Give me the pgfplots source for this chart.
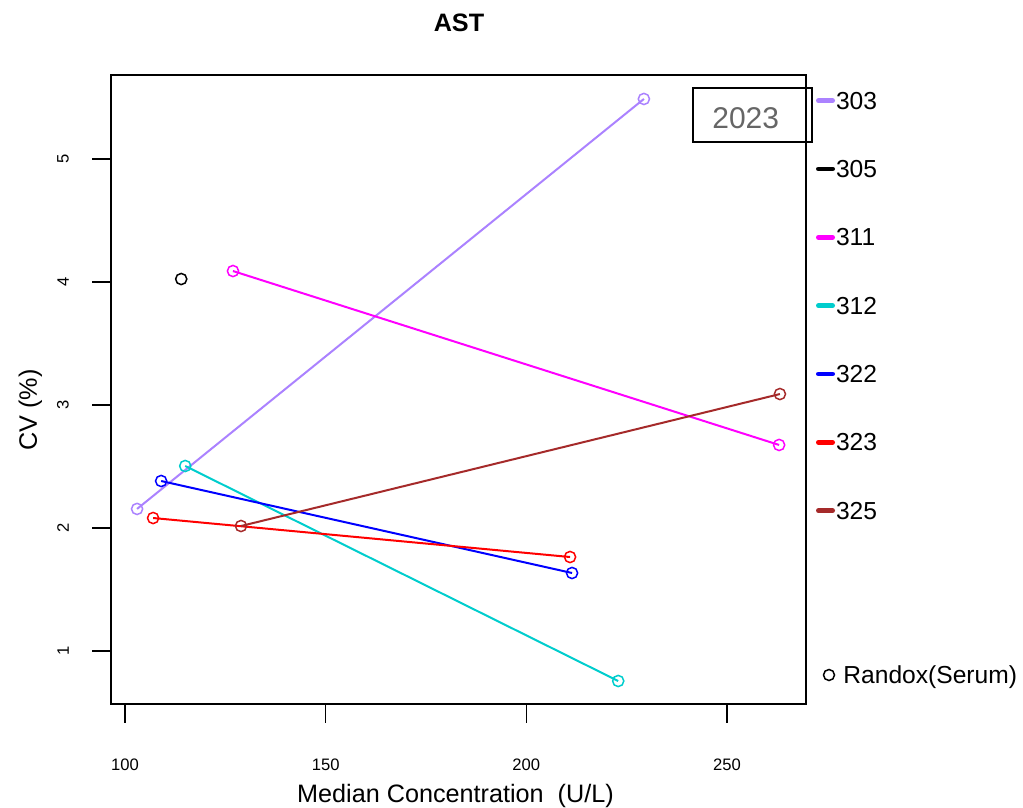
\documentclass[border=0pt]{standalone}
\usepackage{fontspec}
\setmainfont{Liberation Sans}
\usepackage{pgfplots}
\pgfplotsset{compat=1.18}
\definecolor{c303}{RGB}{171,130,255}
\definecolor{c311}{RGB}{255,0,255}
\definecolor{c312}{RGB}{0,205,205}
\definecolor{c322}{RGB}{0,0,255}
\definecolor{c323}{RGB}{255,0,0}
\definecolor{c325}{RGB}{165,42,42}
\definecolor{boxgray}{RGB}{102,102,102}
\begin{document}
\begin{tikzpicture}
\begin{axis}[
  at={(0pt,0pt)}, anchor=south west,
  scale only axis, width=347.5pt, height=314.5pt,
  xmin=96.5, xmax=269.7, ymin=0.569, ymax=5.683,
  clip=false,
  axis line style={line width=0.75pt},
  xtick={100,150,200,250}, ytick={1,2,3,4,5},
  xtick pos=bottom, ytick pos=left,
  tick align=outside, major tick length=9.3pt,
  tick style={line width=0.75pt, black},
  /pgf/number format/assume math mode=true,
  ticklabel style={font=\fontsize{8.3}{10}\selectfont, inner sep=0pt},
  xticklabel style={anchor=base},
  xticklabel shift=23.7pt,
  yticklabel style={rotate=90, anchor=south},
  yticklabel shift=11.55pt,
  title={AST},
  title style={at={(axis description cs:0.5007,1.0504)}, anchor=base, inner sep=0pt, font=\fontsize{12.6}{15}\selectfont\bfseries},
  xlabel={Median Concentration\ \ (U/L)},
  xlabel style={at={(axis description cs:0.4957,-0.1558)}, anchor=base, inner sep=0pt, font=\fontsize{12.6}{15}\selectfont},
  ylabel={CV (\%)},
  ylabel style={at={(axis description cs:-0.1065,0.4674)}, anchor=base, inner sep=0pt, font=\fontsize{12.6}{15}\selectfont},
  legend style={at={(axis description cs:1.01295,0.97297)}, anchor=north west, draw=none, fill=none, inner sep=0pt, outer sep=0pt, row sep=25.57pt,
    nodes={inner sep=0pt, text height=8.6pt, text depth=0pt, font=\fontsize{12.3}{14}\selectfont}},
  legend cell align=left,
  legend image code/.code={\path (0pt,0pt) (9.5pt,0pt); \draw[#1, line width=2.4pt, line cap=round] (1.2pt,0pt) -- (8.3pt,0pt);},
  every axis plot/.append style={line width=1pt, mark=o, mark size=2.8pt, mark options={line width=0.75pt}},
]
\addplot[c303] coordinates {(103.0,2.155) (229.3,5.488)};
\addlegendentry{303}
\addplot[black] coordinates {(114.0,4.024)};
\addlegendentry{305}
\addplot[c311] coordinates {(126.9,4.089) (263.0,2.675)};
\addlegendentry{311}
\addplot[c312] coordinates {(115.0,2.504) (222.9,0.756)};
\addlegendentry{312}
\addplot[c322] coordinates {(109.0,2.382) (211.4,1.634)};
\addlegendentry{322}
\addplot[c323] coordinates {(107.0,2.081) (210.9,1.764)};
\addlegendentry{323}
\addplot[c325] coordinates {(128.9,2.016) (263.2,3.089)};
\addlegendentry{325}
\node[draw, line width=0.75pt, minimum width=59.5pt, minimum height=27pt, inner sep=0pt] at (axis description cs:0.92302,0.93641) {};
\node[text=boxgray, font=\fontsize{15}{18}\selectfont, inner sep=0pt, anchor=base] at (axis description cs:0.91324,0.91526) {2023};
\node[circle, draw, line width=0.75pt, minimum size=5.5pt, inner sep=0pt] at (axis description cs:1.0331,0.0461) {};
\node[anchor=base west, inner sep=0pt, font=\fontsize{12.3}{14}\selectfont] at (axis description cs:1.05324,0.03243) {Randox(Serum)};
\end{axis}
\pgfresetboundingbox
\path[use as bounding box] (-55.5pt,-52pt) rectangle (456pt,352pt);
\end{tikzpicture}
\end{document}
